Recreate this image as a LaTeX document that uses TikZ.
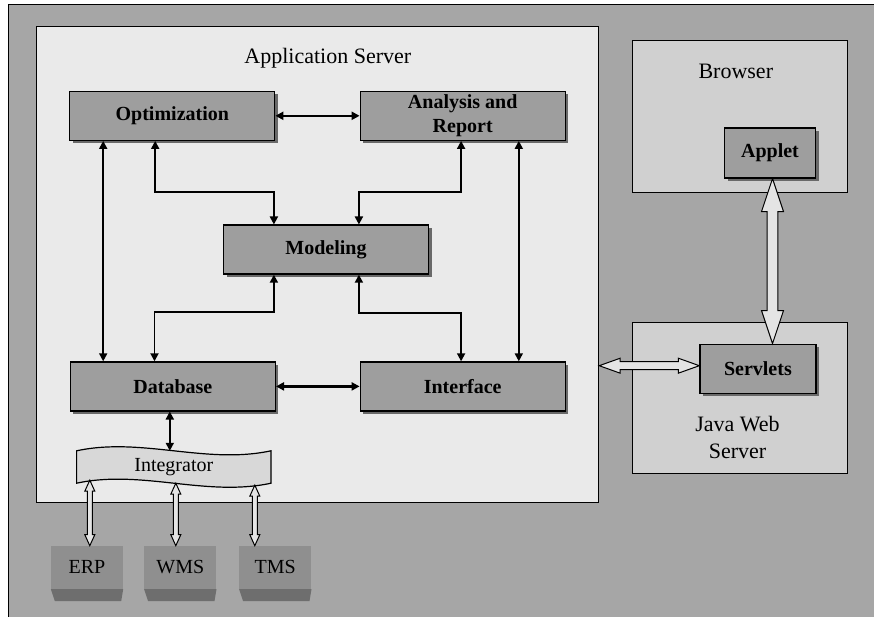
\documentclass[tikz,border=0pt]{standalone}
\usepackage{fontspec}
\setmainfont{Liberation Serif}
\usetikzlibrary{arrows.meta,shadows,calc}
\definecolor{bggray}{RGB}{166,166,166}
\definecolor{srvfill}{RGB}{234,234,234}
\definecolor{hostfill}{RGB}{208,208,208}
\definecolor{modfill}{RGB}{158,158,158}
\definecolor{shadowgray}{RGB}{105,105,105}
\definecolor{tapefill}{RGB}{216,216,216}
\definecolor{extfill}{RGB}{143,143,143}
\definecolor{extbase}{RGB}{110,110,110}
\definecolor{pipefill}{RGB}{228,228,228}
\newcommand{\vhollow}[5]{%
  \draw[hollow] let \p1=(#1), \p2=(#2) in
    (\x1,\y1) -- (\x1+#4,\y1-#5) -- (\x1+#3,\y1-#5) -- (\x1+#3,\y2+#5) -- (\x1+#4,\y2+#5)
    -- (\x1,\y2) -- (\x1-#4,\y2+#5) -- (\x1-#3,\y2+#5) -- (\x1-#3,\y1-#5) -- (\x1-#4,\y1-#5) -- cycle;}
\newcommand{\hhollow}[5]{%
  \draw[hollow] let \p1=(#1), \p2=(#2) in
    (\x1,\y1) -- (\x1+#5,\y1+#4) -- (\x1+#5,\y1+#3) -- (\x2-#5,\y1+#3) -- (\x2-#5,\y1+#4)
    -- (\x2,\y1) -- (\x2-#5,\y1-#4) -- (\x2-#5,\y1-#3) -- (\x1+#5,\y1-#3) -- (\x1+#5,\y1-#4) -- cycle;}
\begin{document}
\begin{tikzpicture}[x=1pt,y=-1pt,
    container/.style={draw, line width=1.2pt, inner sep=0pt},
    caption/.style={font=\fontsize{22}{27}\selectfont, align=center},
    module/.style={draw, line width=1.2pt, fill=modfill, inner sep=0pt,
                   minimum width=205pt, minimum height=49pt, align=center,
                   font=\fontsize{20}{24}\selectfont\bfseries,
                   drop shadow={shadow xshift=3pt, shadow yshift=-3pt, fill=shadowgray, opacity=1}},
    extsys/.style={fill=extfill, inner sep=0pt, minimum width=72pt, minimum height=43pt,
                   font=\fontsize{20}{24}\selectfont},
    link/.style={line width=1.8pt, {Triangle[length=8pt,width=8pt]}-{Triangle[length=8pt,width=8pt]}},
    hollow/.style={draw, line width=1pt, fill=pipefill, line join=miter}]
            \useasboundingbox (0,0) rectangle (874,617);
            \clip (0,0) rectangle (874,617);
            \draw[fill=bggray, line width=1.5pt] (8.7,4.3) rectangle (900,640);
            \node[container, fill=srvfill, minimum width=562pt, minimum height=476pt] (appsrv) at (317.6,264.8) {};
            \node[container, fill=hostfill, minimum width=215pt, minimum height=152pt] (browser) at (740.3,116.7) {};
            \node[container, fill=hostfill, minimum width=215pt, minimum height=151pt] (jws) at (740.3,398.1) {};
            \node[caption] (appsrvlabel) at (327.8,57.9) {Application Server};
            \node[caption] (browserlabel) at (735.8,71) {Browser};
            \node[caption] (jwslabel) at (737.5,437.5) {Java Web\\Server};
            \node[module] (opt) at (172.3,115.8) {Optimization};
            \node[module] (ana) at (462.7,115.8) {Analysis and\\Report};
            \node[module] (mod) at (326,249.6) {Modeling};
            \node[module] (db) at (172.9,386.4) {Database};
            \node[module] (int) at (462.7,386.4) {Interface};
            \node[module, minimum width=91pt, minimum height=50pt] (applet) at (770,153) {Applet};
            \node[module, minimum width=116pt, minimum height=49pt] (servlets) at (757.9,368.7) {Servlets};
            \node[inner sep=0pt, minimum width=194pt, minimum height=32pt] (integ) at (173.8,467) {};
            \draw[fill=tapefill, line width=1.2pt] (integ.north west) .. controls +(65,-14) and +(-65,14) .. (integ.north east)
                -- (integ.south east) .. controls +(-65,14) and +(65,-14) .. (integ.south west) -- cycle;
            \node[font=\fontsize{20}{24}\selectfont] (integlabel) at (integ) {Integrator};
            \node[extsys] (erp) at (87,567.4) {ERP};
            \node[extsys] (wms) at (180.3,567.4) {WMS};
            \node[extsys] (tms) at (275.3,567.4) {TMS};
            \fill[extbase] (erp.south west) -- (erp.south east) -- ([xshift=-2pt,yshift=-12pt]erp.south east) -- ([xshift=4pt,yshift=-12pt]erp.south west) -- cycle;
            \fill[extbase] (wms.south west) -- (wms.south east) -- ([xshift=-2pt,yshift=-12pt]wms.south east) -- ([xshift=4pt,yshift=-12pt]wms.south west) -- cycle;
            \fill[extbase] (tms.south west) -- (tms.south east) -- ([xshift=-2pt,yshift=-12pt]tms.south east) -- ([xshift=4pt,yshift=-12pt]tms.south west) -- cycle;
            \draw[link, line width=2.2pt] (opt.east) -- (ana.west);
            \draw[link, line width=2.8pt] (db.east) -- (int.west);
            \draw[link] ([xshift=34pt]opt.south west) -- ([xshift=34pt]opt.south west |- db.north);
            \draw[link] ([xshift=-47pt]ana.south east) -- ([xshift=-47pt]ana.south east |- int.north);
            \draw[link] ([xshift=86pt]opt.south west) -- ++(0,51) -| ([xshift=51pt]mod.north west);
            \draw[link] ([xshift=101.5pt]ana.south west) -- ++(0,51) -| ([xshift=136pt]mod.north west);
            \draw[link] ([xshift=84.7pt]db.north west) -- ++(0,-49) -| ([xshift=51pt]mod.south west);
            \draw[link] ([xshift=136pt]mod.south west) -- ++(0,38) -| ([xshift=101.5pt]int.north west);
            \draw[link] ([xshift=100pt]db.south west) -- ([xshift=100pt]db.south west |- integ.north);
            \vhollow{[xshift=-84pt,yshift=3pt]integ.south}{[xshift=-84pt]integ.south |- erp.north}{2.5pt}{5pt}{11pt}
            \vhollow{[xshift=2pt]integ.south}{[xshift=2pt]integ.south |- wms.north}{2.5pt}{5pt}{11pt}
            \vhollow{[xshift=81pt,yshift=-2pt]integ.south}{[xshift=81pt]integ.south |- tms.north}{2.5pt}{5pt}{11pt}
            \vhollow{[xshift=2.5pt]applet.south}{servlets.north}{5.3pt}{11pt}{33pt}
            \hhollow{[yshift=3pt]appsrv.east |- servlets.west}{servlets.west}{4pt}{7.5pt}{21pt}
\end{tikzpicture}
\end{document}
